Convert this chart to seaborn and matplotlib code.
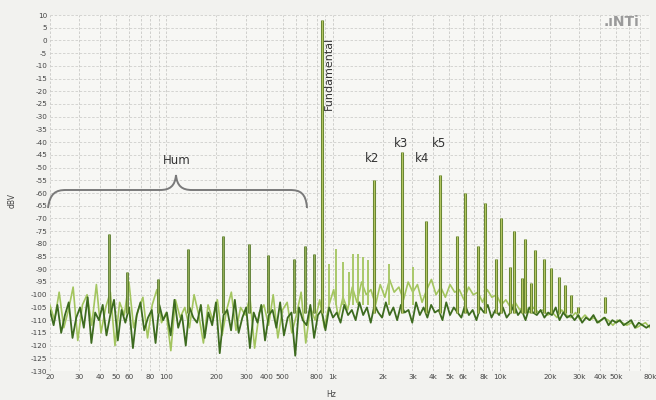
import numpy as np
import pandas as pd
import matplotlib
matplotlib.use("Agg")
import matplotlib.pyplot as plt
import seaborn as sns
from matplotlib.path import Path
from matplotlib.patches import PathPatch

# ---------------- data ----------------
dark_noise_db = [
    -106, -112, -104, -115, -108, -103, -117, -109, -105, -113,
    -101, -119, -107, -110, -104, -116, -108, -102, -118, -106,
    -111, -105, -121, -108, -103, -114, -109, -106, -119, -104,
    -110, -107, -116, -102, -113, -108, -120, -105, -109, -111,
    -104, -117, -107, -112, -103, -123, -108, -106, -114, -102,
    -115, -109, -105, -121, -107, -111, -104, -118, -108, -106,
    -113, -103, -116, -109, -107, -124, -105, -110, -112, -104,
    -117, -108, -106, -114, -105, -109, -107, -111, -104, -108,
    -106, -110, -103, -108, -105, -111, -104, -107, -109, -103,
    -108, -105, -110, -104, -107, -106, -111, -103, -108, -105,
    -109, -104, -107, -106, -110, -103, -108, -105, -107, -109,
    -104, -108, -106, -110, -105, -107, -104, -109, -106, -108,
    -105, -109, -107, -104, -108, -106, -110, -105, -107, -108,
    -106, -109, -107, -108, -105, -110, -107, -109, -108, -110,
    -108, -111, -109, -110, -108, -111, -110, -109, -112, -110,
    -111, -110, -112, -111, -110, -113, -111, -112, -113, -112,
]
light_noise_db = [
    -104, -110, -99, -113, -106, -97, -118, -104, -100, -112,
    -96, -115, -105, -99, -120, -103, -108, -95, -113, -106,
    -101, -117, -104, -98, -111, -107, -122, -102, -109, -105,
    -113, -100, -108, -119, -104, -110, -102, -116, -106, -99,
    -114, -105, -108, -101, -121, -107, -104, -112, -100, -117,
    -106, -103, -115, -108, -99, -119, -105, -110, -102, -113,
    -104, -98, -109, -101, -106,
    -97, -103, -95, -100, -98, -104, -96, -101, -94, -99,
    -97, -102, -95, -99, -96, -103, -98, -94, -100, -97,
    -101, -96, -99, -98, -102, -97, -100, -99, -103, -98,
    -101, -100, -104, -102, -105, -103, -106, -104, -107, -105,
    -107, -106, -108, -107, -109, -106, -108, -109, -107, -110,
    -108, -110, -109, -111, -109, -110, -112, -110, -111, -112,
    -111, -113, -112, -111, -113,
]
hum_freq = [45, 58, 89, 134, 220, 312, 406, 582, 678, 768]
hum_db = [-76, -91, -94, -82, -77, -80, -84.5, -86, -81, -84]
harm_freq = [858, 1766, 2604, 3631, 4410, 5585, 6238, 7470, 8118, 9458,
             10136, 11482, 12134, 13566, 14144, 15370, 16244, 18404, 20280,
             22650, 24620, 26760, 29500, 33420, 42900, 65000]
harm_db = [8, -55, -44, -71, -53, -77, -60, -81, -64, -86,
           -70, -89, -75, -93.5, -78, -95.5, -82.5, -86, -89.6,
           -93, -96, -100, -105, -107, -101, -107]
imd_freq = [946, 1042, 1148, 1248, 1318, 1412, 1516, 1624, 2172, 3032]
imd_db = [-88, -82, -87, -91, -84, -84, -85, -86.5, -88, -89]
x_ticks = [20, 30, 40, 50, 60, 80, 100, 200, 300, 400, 500, 800, 1000, 2000,
           3000, 4000, 5000, 6000, 8000, 10000, 20000, 30000, 40000, 50000, 80000]
x_tick_labels = ["20", "30", "40", "50", "60", "80", "100", "200", "300", "400",
                 "500", "800", "1k", "2k", "3k", "4k", "5k", "6k", "8k", "10k",
                 "20k", "30k", "40k", "50k", "80k"]
y_ticks = list(range(10, -135, -5))
k_labels = ["k2", "k3", "k4", "k5"]
k_label_freq = [1718, 2567, 3435, 4349]
k_label_db = [-46.3, -40.4, -46.3, -40.4]

# ---------------- figure ----------------
sns.set_theme(style="white")
plt.rcParams['font.family'] = ['DejaVu Sans']
fig, ax = plt.subplots(figsize=(6.56, 4.0), dpi=100)
fig.patch.set_facecolor('#f2f2ef')
ax.set_facecolor('#f7f7f4')
fig.subplots_adjust(left=0.076, right=0.991, top=0.9625, bottom=0.0725)
ax.set_xscale('log')
ax.set_xlim(20, 80000)
ax.set_ylim(-130, 10)

# grid
minor = [m * d for d in [10, 100, 1000, 10000] for m in range(1, 10)]
minor = [v for v in minor if 20 <= v <= 80000]
ax.set_xticks(minor, minor=True)
ax.set_xticks(x_ticks)
ax.set_xticklabels(x_tick_labels)
ax.set_yticks(y_ticks)
ax.set_yticklabels([str(v) for v in y_ticks])
ax.grid(True, which='both', axis='x', color='#c9c9c6', lw=0.6, ls=(0, (3, 2)))
ax.grid(True, which='major', axis='y', color='#cfcfcc', lw=0.6, ls=(0, (3, 2)))
ax.tick_params(axis='both', which='both', length=0, labelsize=5.2,
               labelcolor='#444444', pad=2)
for s in ax.spines.values():
    s.set_visible(False)

# traces
light_df = pd.DataFrame({"freq": np.geomspace(20, 80000, len(light_noise_db)),
                         "db": light_noise_db})
dark_df = pd.DataFrame({"freq": np.geomspace(20, 80000, len(dark_noise_db)),
                        "db": dark_noise_db})
sns.lineplot(data=light_df, x="freq", y="db", color='#a3c55f', lw=1.2,
             estimator=None, ax=ax)
ax.vlines(imd_freq, -104, imd_db, color='#a9c86a', lw=1.4)
sns.lineplot(data=dark_df, x="freq", y="db", color='#3d6b1f', lw=1.3,
             estimator=None, ax=ax)

# peaks (two-tone lines)
ax.vlines(hum_freq, -107, hum_db, color='#55782a', lw=2.0)
ax.vlines(hum_freq, -107, hum_db, color='#93ad55', lw=0.8)
ax.vlines(harm_freq, -107, harm_db, color='#5f7f2c', lw=2.2)
ax.vlines(harm_freq, -107, harm_db, color='#b3c561', lw=0.9)

ax.set_xlabel("")
ax.set_ylabel("")
fig.text(0.018, 0.5, "dBV", rotation=90, fontsize=5.5, color='#444444',
         ha='center', va='center')
fig.text(0.505, 0.008, "Hz", fontsize=5.5, color='#444444', ha='center')

# annotations
ax.text(946, -13, "Fundamental", rotation=90, fontsize=8, color='#333333',
        ha='center', va='center')
for lab, f, d in zip(k_labels, k_label_freq, k_label_db):
    ax.text(f, d, lab, fontsize=8.5, color='#333333', ha='center', va='center')
ax.text(114.8, -47.1, "Hum", fontsize=8.5, color='#333333', ha='center', va='center')

def P(x, y):
    return (x / 656.0, 1 - y / 400.0)

verts = [P(48, 208), P(50, 193), P(56, 190), P(66, 190), P(160, 190),
         P(170, 190), P(175, 186), P(176, 175),
         P(177, 186), P(182, 190), P(192, 190), P(290, 190),
         P(300, 190), P(306, 193), P(307, 208)]
codes = [Path.MOVETO, Path.CURVE4, Path.CURVE4, Path.CURVE4, Path.LINETO,
         Path.CURVE4, Path.CURVE4, Path.CURVE4,
         Path.CURVE4, Path.CURVE4, Path.CURVE4, Path.LINETO,
         Path.CURVE4, Path.CURVE4, Path.CURVE4]
fig.patches.append(PathPatch(Path(verts, codes), transform=fig.transFigure,
                             fill=False, edgecolor='#7a7a7a', lw=1.4))

fig.text(0.975, 0.945, ".\u0131NTi", fontsize=10, fontweight='bold',
         color='#9a9a9a', ha='right', va='center')

fig.savefig("out.png", dpi=100, facecolor=fig.get_facecolor())
